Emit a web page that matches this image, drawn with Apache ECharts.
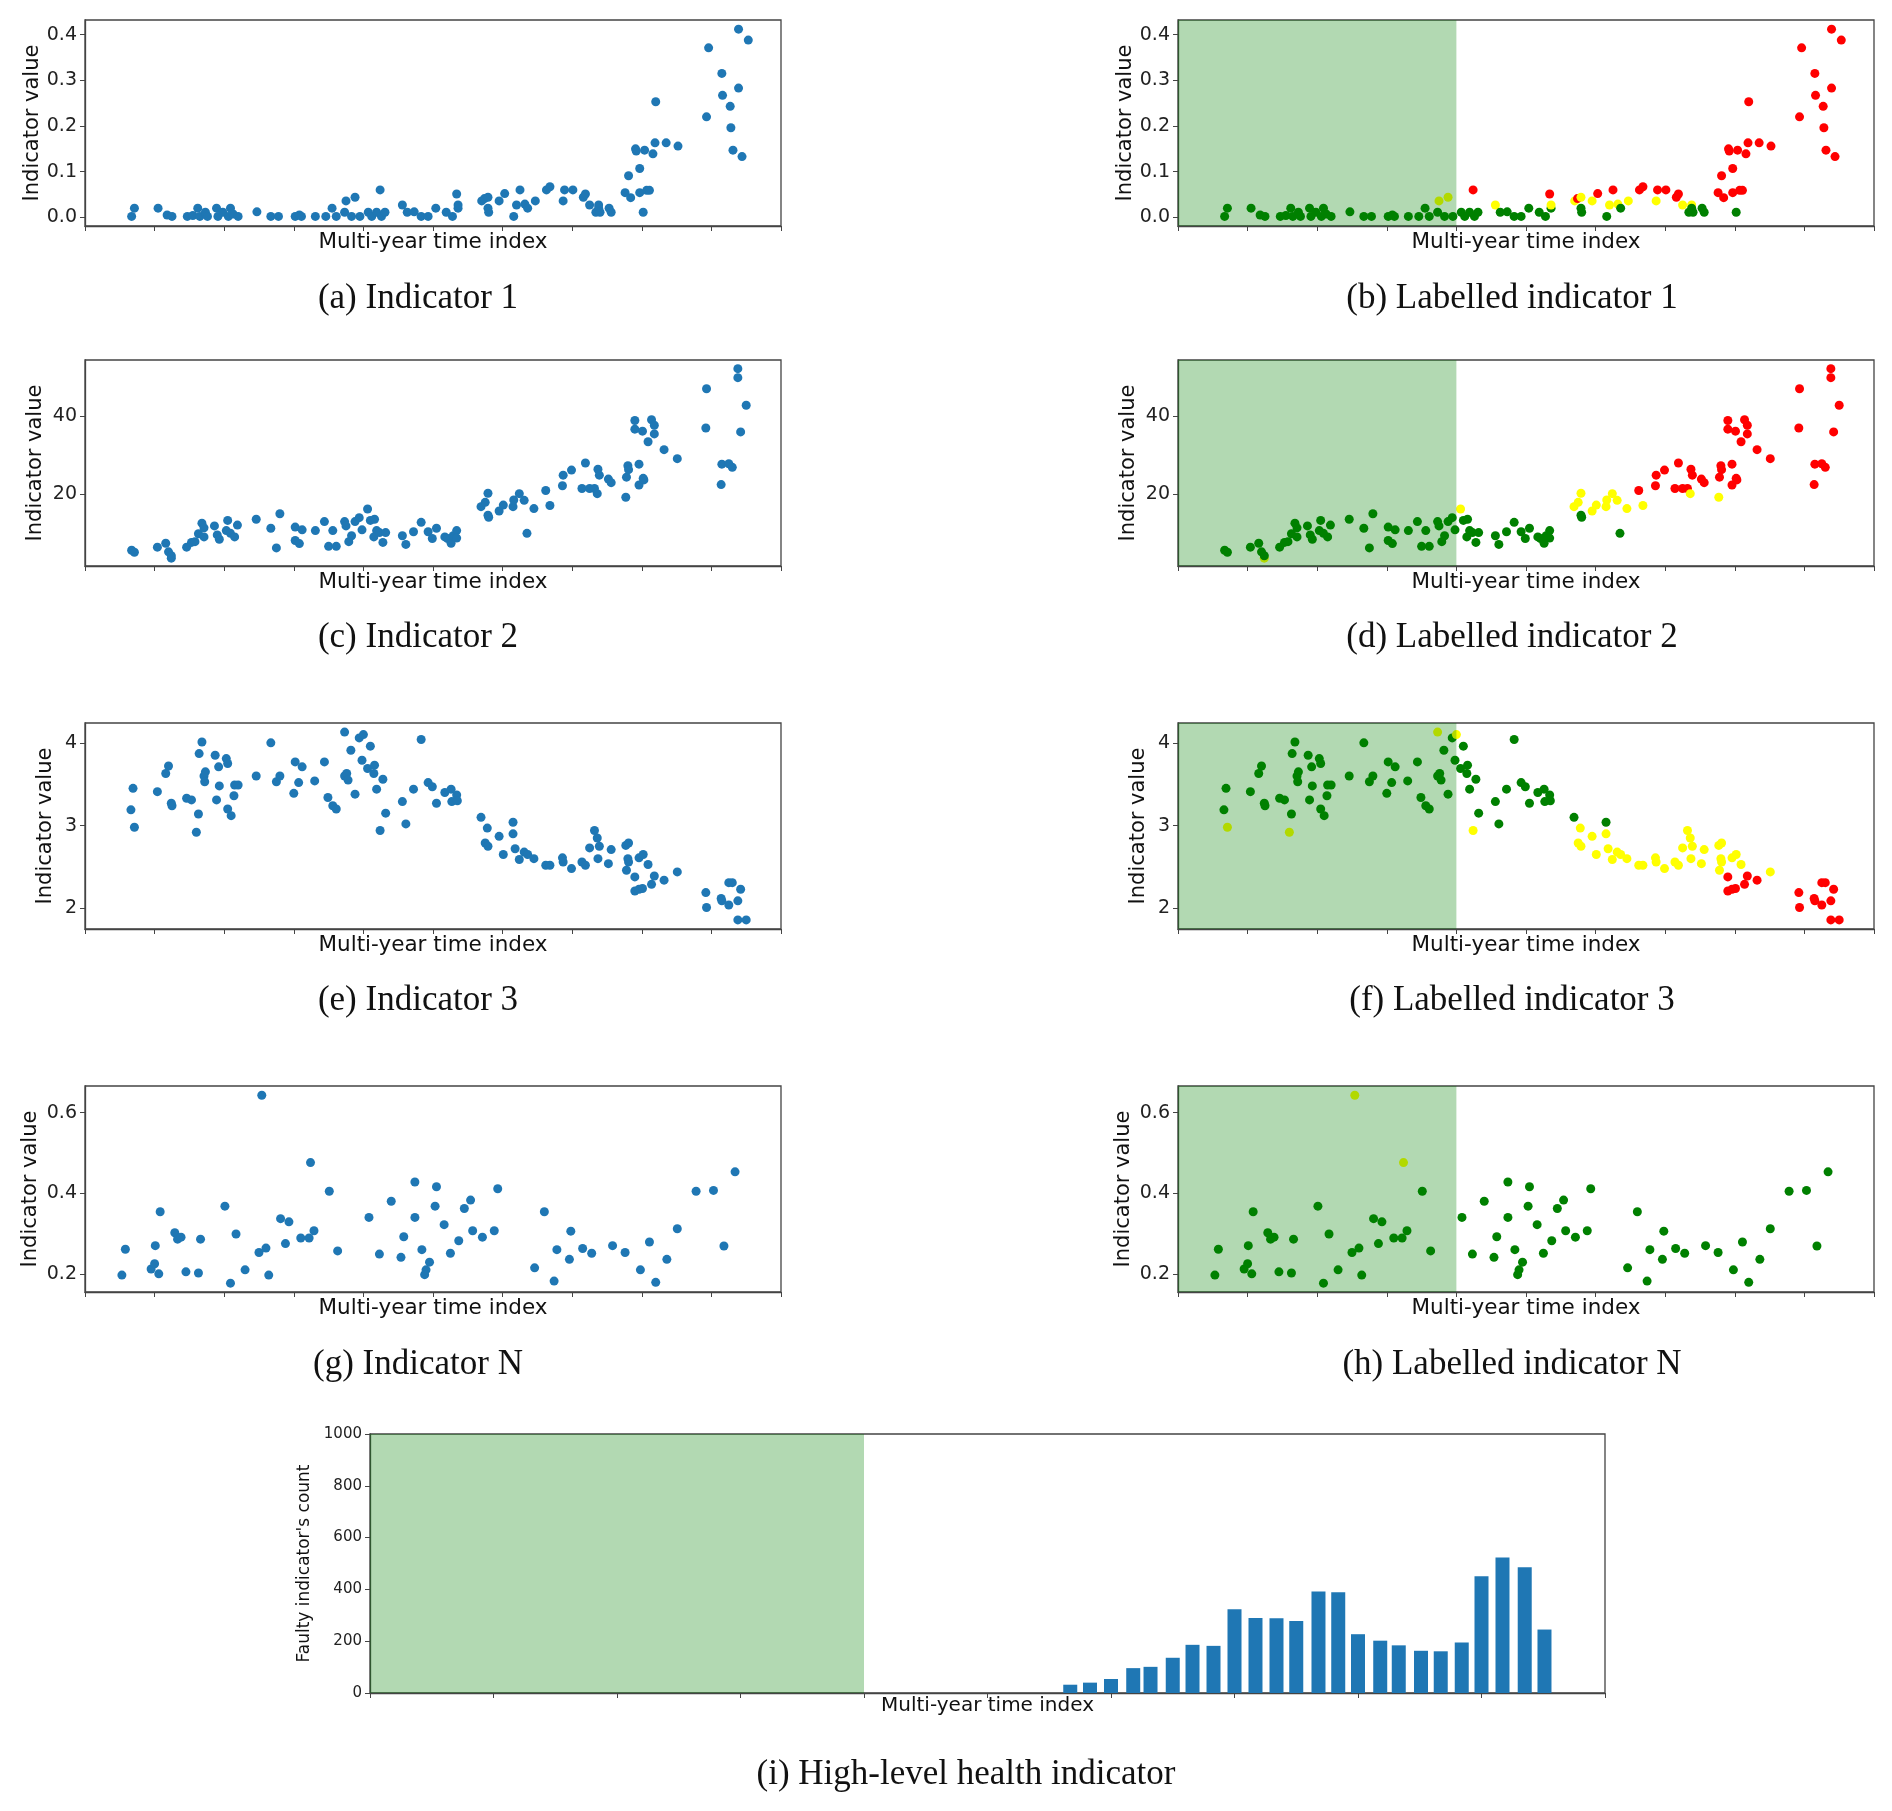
<!DOCTYPE html>
<html>
<head>
<meta charset="utf-8">
<script src="https://cdn.jsdelivr.net/npm/echarts@6/dist/echarts.min.js"></script>
<style>
  html, body { margin: 0; padding: 0; background: #fff; }
  #chart { width: 1892px; height: 1811px; }
</style>
</head>
<body>
<div id="chart"></div>
<script>
// ---- data: [time index, value, label] ----
// label: g = healthy (green), y = warning (yellow), r = faulty (red)
var ind1 = [
  [0.67, 0.002, 'g'], [0.71, 0.02, 'g'], [1.05, 0.02, 'g'], [1.18, 0.005, 'g'], [1.25, 0.002, 'g'],
  [1.47, 0.002, 'g'], [1.55, 0.004, 'g'], [1.62, 0.02, 'g'], [1.65, 0.002, 'g'], [1.73, 0.011, 'g'],
  [1.76, 0.002, 'g'], [1.89, 0.02, 'g'], [1.91, 0.002, 'g'], [1.98, 0.011, 'g'], [2.06, 0.002, 'g'],
  [2.09, 0.02, 'g'], [2.13, 0.007, 'g'], [2.2, 0.002, 'g'], [2.47, 0.012, 'g'], [2.67, 0.002, 'g'],
  [2.78, 0.002, 'g'], [3.02, 0.002, 'g'], [3.08, 0.005, 'g'], [3.11, 0.002, 'g'], [3.31, 0.002, 'g'],
  [3.46, 0.002, 'g'], [3.55, 0.02, 'g'], [3.61, 0.002, 'g'], [3.73, 0.011, 'g'], [3.75, 0.036, 'y'],
  [3.83, 0.002, 'g'], [3.88, 0.044, 'y'], [3.95, 0.002, 'g'], [4.07, 0.011, 'g'], [4.12, 0.002, 'g'],
  [4.19, 0.011, 'g'], [4.24, 0.06, 'r'], [4.26, 0.002, 'g'], [4.31, 0.011, 'g'], [4.56, 0.027, 'y'],
  [4.63, 0.011, 'g'], [4.73, 0.012, 'g'], [4.83, 0.002, 'g'], [4.93, 0.002, 'g'], [5.04, 0.02, 'g'],
  [5.19, 0.011, 'g'], [5.28, 0.002, 'g'], [5.34, 0.051, 'r'], [5.36, 0.02, 'g'], [5.36, 0.027, 'y'],
  [5.7, 0.036, 'y'], [5.74, 0.041, 'r'], [5.79, 0.044, 'y'], [5.79, 0.02, 'g'], [5.8, 0.011, 'g'],
  [5.95, 0.036, 'y'], [6.03, 0.052, 'r'], [6.16, 0.002, 'g'], [6.2, 0.027, 'y'], [6.25, 0.06, 'r'],
  [6.32, 0.029, 'y'], [6.36, 0.02, 'g'], [6.47, 0.036, 'y'], [6.63, 0.06, 'r'], [6.68, 0.067, 'r'],
  [6.87, 0.036, 'y'], [6.89, 0.06, 'r'], [7.01, 0.06, 'r'], [7.16, 0.044, 'r'], [7.19, 0.051, 'r'],
  [7.25, 0.027, 'y'], [7.34, 0.011, 'g'], [7.38, 0.027, 'y'], [7.38, 0.02, 'g'], [7.4, 0.011, 'g'],
  [7.53, 0.02, 'g'], [7.56, 0.011, 'g'], [7.76, 0.054, 'r'], [7.81, 0.091, 'r'], [7.84, 0.043, 'r'],
  [7.91, 0.15, 'r'], [7.92, 0.145, 'r'], [7.97, 0.107, 'r'], [7.97, 0.054, 'r'], [8.02, 0.011, 'g'],
  [8.04, 0.147, 'r'], [8.07, 0.059, 'r'], [8.11, 0.059, 'r'], [8.16, 0.139, 'r'], [8.19, 0.163, 'r'],
  [8.2, 0.253, 'r'], [8.35, 0.163, 'r'], [8.52, 0.156, 'r'], [8.93, 0.22, 'r'], [8.96, 0.371, 'r'],
  [9.15, 0.315, 'r'], [9.16, 0.267, 'r'], [9.27, 0.243, 'r'], [9.28, 0.196, 'r'], [9.31, 0.147, 'r'],
  [9.39, 0.283, 'r'], [9.39, 0.412, 'r'], [9.44, 0.133, 'r'], [9.53, 0.388, 'r']
];

var ind2 = [
  [0.67, 5.8, 'g'], [0.71, 5.3, 'g'], [1.04, 6.6, 'g'], [1.16, 7.6, 'g'], [1.2, 5.4, 'g'],
  [1.24, 3.8, 'y'], [1.24, 4.4, 'g'], [1.46, 6.6, 'g'], [1.53, 7.8, 'g'], [1.58, 8.0, 'g'],
  [1.63, 10.0, 'g'], [1.68, 12.7, 'g'], [1.71, 11.5, 'g'], [1.71, 9.2, 'g'], [1.86, 12.0, 'g'],
  [1.9, 9.7, 'g'], [1.93, 8.6, 'g'], [2.03, 10.8, 'g'], [2.05, 13.4, 'g'], [2.09, 10.1, 'g'],
  [2.15, 9.2, 'g'], [2.19, 12.2, 'g'], [2.46, 13.7, 'g'], [2.67, 11.4, 'g'], [2.75, 6.4, 'g'],
  [2.8, 15.1, 'g'], [3.02, 11.7, 'g'], [3.02, 8.3, 'g'], [3.08, 7.5, 'g'], [3.12, 11.0, 'g'],
  [3.31, 10.8, 'g'], [3.44, 13.1, 'g'], [3.5, 6.8, 'g'], [3.56, 10.8, 'g'], [3.61, 6.8, 'g'],
  [3.73, 13.1, 'g'], [3.75, 12.0, 'g'], [3.79, 8.0, 'g'], [3.83, 9.5, 'g'], [3.88, 13.1, 'g'],
  [3.94, 14.1, 'g'], [3.98, 11.0, 'g'], [4.06, 16.3, 'y'], [4.1, 13.4, 'g'], [4.16, 13.7, 'g'],
  [4.19, 10.8, 'g'], [4.15, 9.2, 'g'], [4.23, 10.3, 'g'], [4.28, 7.8, 'g'], [4.32, 10.3, 'g'],
  [4.56, 9.5, 'g'], [4.61, 7.3, 'g'], [4.72, 10.5, 'g'], [4.83, 12.9, 'g'], [4.93, 10.5, 'g'],
  [4.99, 8.8, 'g'], [5.05, 11.4, 'g'], [5.17, 9.2, 'g'], [5.21, 8.8, 'g'], [5.26, 7.6, 'g'],
  [5.29, 9.5, 'g'], [5.34, 10.8, 'g'], [5.34, 8.9, 'g'], [5.69, 16.9, 'y'], [5.75, 18.0, 'y'],
  [5.79, 20.3, 'y'], [5.79, 14.7, 'g'], [5.8, 14.2, 'g'], [5.95, 15.8, 'y'], [6.01, 17.3, 'y'],
  [6.15, 16.9, 'y'], [6.16, 18.6, 'y'], [6.24, 20.2, 'y'], [6.31, 18.5, 'y'], [6.35, 10.1, 'g'],
  [6.45, 16.4, 'y'], [6.62, 21.0, 'r'], [6.68, 17.2, 'y'], [6.86, 22.2, 'r'], [6.87, 24.9, 'r'],
  [6.99, 26.2, 'r'], [7.14, 21.5, 'r'], [7.19, 28.0, 'r'], [7.25, 21.5, 'r'], [7.32, 21.5, 'r'],
  [7.36, 20.2, 'y'], [7.37, 26.4, 'r'], [7.39, 24.9, 'r'], [7.52, 23.9, 'r'], [7.56, 23.0, 'r'],
  [7.77, 19.3, 'y'], [7.78, 24.4, 'r'], [7.8, 27.3, 'r'], [7.81, 26.3, 'r'], [7.9, 38.8, 'r'],
  [7.9, 36.6, 'r'], [7.96, 27.7, 'r'], [7.96, 22.4, 'r'], [8.01, 36.1, 'r'], [8.02, 24.1, 'r'],
  [8.03, 23.7, 'r'], [8.09, 33.4, 'r'], [8.14, 39.0, 'r'], [8.18, 37.6, 'r'], [8.18, 35.4, 'r'],
  [8.32, 31.4, 'r'], [8.51, 29.1, 'r'], [8.92, 36.9, 'r'], [8.93, 46.9, 'r'], [9.14, 22.5, 'r'],
  [9.15, 27.7, 'r'], [9.25, 27.8, 'r'], [9.3, 26.9, 'r'], [9.38, 49.7, 'r'], [9.38, 52.0, 'r'],
  [9.42, 35.9, 'r'], [9.5, 42.7, 'r']
];

var ind3 = [
  [0.69, 3.45, 'g'], [0.66, 3.19, 'g'], [0.71, 2.98, 'y'], [1.04, 3.41, 'g'], [1.16, 3.63, 'g'],
  [1.2, 3.72, 'g'], [1.24, 3.27, 'g'], [1.25, 3.24, 'g'], [1.46, 3.33, 'g'], [1.53, 3.31, 'g'],
  [1.63, 3.14, 'g'], [1.6, 2.92, 'y'], [1.64, 3.87, 'g'], [1.68, 4.01, 'g'], [1.71, 3.6, 'g'],
  [1.73, 3.65, 'g'], [1.72, 3.53, 'g'], [1.87, 3.85, 'g'], [1.89, 3.31, 'g'], [1.92, 3.71, 'g'],
  [1.93, 3.48, 'g'], [2.03, 3.81, 'g'], [2.05, 3.75, 'g'], [2.05, 3.2, 'g'], [2.1, 3.12, 'g'],
  [2.14, 3.36, 'g'], [2.15, 3.49, 'g'], [2.2, 3.49, 'g'], [2.46, 3.6, 'g'], [2.67, 4.0, 'g'],
  [2.75, 3.53, 'g'], [2.8, 3.6, 'g'], [3.0, 3.39, 'g'], [3.02, 3.77, 'g'], [3.07, 3.52, 'g'],
  [3.12, 3.71, 'g'], [3.3, 3.54, 'g'], [3.44, 3.77, 'g'], [3.49, 3.34, 'g'], [3.56, 3.24, 'g'],
  [3.61, 3.2, 'g'], [3.73, 3.6, 'g'], [3.76, 3.63, 'g'], [3.78, 3.55, 'g'], [3.82, 3.91, 'g'],
  [3.88, 3.38, 'g'], [3.73, 4.13, 'y'], [3.94, 4.06, 'g'], [4.0, 4.1, 'y'], [3.98, 3.79, 'g'],
  [4.06, 3.69, 'g'], [4.1, 3.96, 'g'], [4.15, 3.63, 'g'], [4.16, 3.73, 'g'], [4.19, 3.44, 'g'],
  [4.28, 3.56, 'g'], [4.24, 2.94, 'y'], [4.32, 3.15, 'g'], [4.56, 3.29, 'g'], [4.61, 3.02, 'g'],
  [4.72, 3.44, 'g'], [4.83, 4.04, 'g'], [4.93, 3.52, 'g'], [4.99, 3.47, 'g'], [5.05, 3.27, 'g'],
  [5.17, 3.4, 'g'], [5.26, 3.44, 'g'], [5.27, 3.29, 'g'], [5.34, 3.37, 'g'], [5.35, 3.3, 'g'],
  [5.69, 3.1, 'g'], [5.78, 2.97, 'y'], [5.75, 2.79, 'y'], [5.79, 2.75, 'y'], [5.95, 2.87, 'y'],
  [6.01, 2.65, 'y'], [6.15, 3.04, 'g'], [6.15, 2.9, 'y'], [6.18, 2.72, 'y'], [6.24, 2.59, 'y'],
  [6.31, 2.68, 'y'], [6.36, 2.65, 'y'], [6.45, 2.6, 'y'], [6.62, 2.52, 'y'], [6.68, 2.52, 'y'],
  [6.86, 2.61, 'y'], [6.87, 2.56, 'y'], [6.99, 2.48, 'y'], [7.14, 2.56, 'y'], [7.19, 2.52, 'y'],
  [7.25, 2.73, 'y'], [7.32, 2.94, 'y'], [7.36, 2.85, 'y'], [7.39, 2.75, 'y'], [7.37, 2.6, 'y'],
  [7.52, 2.54, 'y'], [7.56, 2.71, 'y'], [7.77, 2.76, 'y'], [7.81, 2.79, 'y'], [7.8, 2.6, 'y'],
  [7.81, 2.56, 'y'], [7.78, 2.46, 'y'], [7.9, 2.38, 'r'], [7.9, 2.21, 'r'], [7.96, 2.23, 'r'],
  [8.01, 2.24, 'r'], [7.96, 2.61, 'y'], [8.02, 2.65, 'y'], [8.09, 2.53, 'y'], [8.14, 2.29, 'r'],
  [8.18, 2.39, 'r'], [8.32, 2.34, 'r'], [8.51, 2.44, 'y'], [8.92, 2.19, 'r'], [8.93, 2.01, 'r'],
  [9.14, 2.12, 'r'], [9.15, 2.09, 'r'], [9.25, 2.04, 'r'], [9.25, 2.31, 'r'], [9.3, 2.31, 'r'],
  [9.38, 2.09, 'r'], [9.42, 2.23, 'r'], [9.38, 1.86, 'r'], [9.5, 1.86, 'r']
];

var indN = [
  [0.53, 0.197, 'g'], [0.58, 0.261, 'g'], [0.95, 0.212, 'g'], [1.0, 0.225, 'g'], [1.01, 0.27, 'g'],
  [1.06, 0.2, 'g'], [1.08, 0.354, 'g'], [1.29, 0.302, 'g'], [1.33, 0.286, 'g'], [1.38, 0.291, 'g'],
  [1.45, 0.205, 'g'], [1.63, 0.202, 'g'], [1.66, 0.286, 'g'], [2.01, 0.368, 'g'], [2.09, 0.177, 'g'],
  [2.17, 0.299, 'g'], [2.3, 0.21, 'g'], [2.5, 0.253, 'g'], [2.54, 0.643, 'y'], [2.6, 0.264, 'g'],
  [2.64, 0.197, 'g'], [2.81, 0.337, 'g'], [2.88, 0.275, 'g'], [2.93, 0.329, 'g'], [3.1, 0.289, 'g'],
  [3.22, 0.289, 'g'], [3.24, 0.476, 'y'], [3.29, 0.307, 'g'], [3.51, 0.405, 'g'], [3.63, 0.257, 'g'],
  [4.08, 0.34, 'g'], [4.23, 0.249, 'g'], [4.4, 0.38, 'g'], [4.54, 0.241, 'g'], [4.58, 0.292, 'g'],
  [4.74, 0.428, 'g'], [4.74, 0.34, 'g'], [4.84, 0.26, 'g'], [4.95, 0.229, 'g'], [4.9, 0.21, 'g'],
  [4.88, 0.198, 'g'], [5.03, 0.368, 'g'], [5.05, 0.416, 'g'], [5.16, 0.322, 'g'], [5.25, 0.251, 'g'],
  [5.37, 0.282, 'g'], [5.45, 0.362, 'g'], [5.54, 0.383, 'g'], [5.57, 0.307, 'g'], [5.71, 0.291, 'g'],
  [5.88, 0.307, 'g'], [5.93, 0.411, 'g'], [6.46, 0.215, 'g'], [6.6, 0.354, 'g'], [6.74, 0.182, 'g'],
  [6.78, 0.26, 'g'], [6.96, 0.236, 'g'], [6.98, 0.306, 'g'], [7.15, 0.263, 'g'], [7.28, 0.251, 'g'],
  [7.58, 0.27, 'g'], [7.76, 0.253, 'g'], [7.98, 0.21, 'g'], [8.11, 0.279, 'g'], [8.2, 0.179, 'g'],
  [8.36, 0.236, 'g'], [8.51, 0.312, 'g'], [8.78, 0.405, 'g'], [9.03, 0.407, 'g'], [9.18, 0.269, 'g'],
  [9.34, 0.453, 'g']
];

// high-level health indicator: faulty indicator count per period
var barX = [5.67, 5.83, 6.0, 6.18, 6.32, 6.5, 6.66, 6.83, 7.0, 7.17, 7.34, 7.5,
            7.68, 7.84, 8.0, 8.18, 8.33, 8.51, 8.67, 8.84, 9.0, 9.17, 9.35, 9.51];
var barCount = [32, 40, 54, 96, 101, 136, 186, 182, 323, 290, 289, 278,
                392, 389, 227, 202, 184, 163, 161, 195, 451, 523, 486, 245];

// reference (training) period shaded green
var shadeRange = [0, 4];

// axes
var xTicks = [0, 1, 2, 3, 4, 5, 6, 7, 8, 9, 10];
var ticks1 = [0, 0.1, 0.2, 0.3, 0.4];
var ticks2 = [20, 40];
var ticks3 = [2, 3, 4];
var ticksN = [0.2, 0.4, 0.6];
var ticksBar = [0, 200, 400, 600, 800, 1000];

var range1 = [-0.019, 0.432];
var range2 = [1.8, 54.2];
var range3 = [1.75, 4.24];
var rangeN = [0.155, 0.666];

// ---- layout ----
var SANS = "'DejaVu Sans', sans-serif";
var SERIF = "'Liberation Serif', 'Times New Roman', serif";
var FRAME = '#444';
var BLUE = '#1f77b4';
var labelColor = { g: '#008000', y: '#ffff00', r: '#ff0000' };

var rowTop = [20, 360, 723, 1086];
var colLeft = [85, 1178];
var plotW = 696, plotH = 206;
var capY = [299, 638, 1001, 1365];
var capX = [418, 1512];

var panels = [
  { data: ind1, range: range1, ticks: ticks1, digits: 1, gap: 42,
    caps: ['(a) Indicator 1', '(b) Labelled indicator 1'] },
  { data: ind2, range: range2, ticks: ticks2, digits: 0, gap: 39,
    caps: ['(c) Indicator 2', '(d) Labelled indicator 2'] },
  { data: ind3, range: range3, ticks: ticks3, digits: 0, gap: 29,
    caps: ['(e) Indicator 3', '(f) Labelled indicator 3'] },
  { data: indN, range: rangeN, ticks: ticksN, digits: 1, gap: 44,
    caps: ['(g) Indicator N', '(h) Labelled indicator N'] }
];

var dom = document.getElementById('chart');
var myChart = echarts.init(dom, null, { renderer: 'canvas' });

var grids = [], xAxes = [], yAxes = [], series = [], titles = [];

function addTitle(text, cx, cy, size) {
  titles.push({
    text: text, left: cx, top: cy - size / 2, textAlign: 'center', padding: 0,
    textStyle: { fontFamily: SERIF, fontSize: size, lineHeight: size, fontWeight: 'normal', color: '#111' }
  });
}

function addAxes(left, top, w, h, yRange, yTicks, digits, nameGap, opt) {
  var idx = grids.length;
  grids.push({ left: left, top: top, width: w, height: h, show: true,
               borderColor: FRAME, borderWidth: 1.3, backgroundColor: 'transparent' });
  xAxes.push({
    type: 'value', gridIndex: idx, min: 0, max: 10,
    name: 'Multi-year time index', nameLocation: 'middle', nameGap: opt.xGap,
    nameTextStyle: { fontFamily: SANS, fontSize: opt.xName, color: '#111' },
    axisLine: { show: true, onZero: false, lineStyle: { color: FRAME, width: 1.3 } },
    axisTick: { show: true, length: 5, inside: false, customValues: xTicks,
                lineStyle: { color: FRAME, width: 1 } },
    axisLabel: { show: false, customValues: xTicks },
    splitLine: { show: false }
  });
  yAxes.push({
    type: 'value', gridIndex: idx, min: yRange[0], max: yRange[1],
    name: opt.yName, nameLocation: 'middle', nameGap: nameGap,
    nameTextStyle: { fontFamily: SANS, fontSize: opt.yNameSize, color: '#111' },
    axisLine: { show: true, onZero: false, lineStyle: { color: FRAME, width: 1.3 } },
    axisTick: { show: true, length: 5, customValues: yTicks,
                lineStyle: { color: FRAME, width: 1 } },
    axisLabel: { show: true, customValues: yTicks, margin: 8,
                 fontFamily: SANS, fontSize: opt.tickSize, color: '#222',
                 formatter: function (v) { return v.toFixed(digits); } },
    splitLine: { show: false }
  });
  return idx;
}

// translucent band drawn above the points, like an axvspan
function addShade(idx) {
  series.push({
    type: 'line', xAxisIndex: idx, yAxisIndex: idx, data: [], z: 5, silent: true,
    markArea: {
      silent: true, z: 10,
      itemStyle: { color: 'rgba(0,128,0,0.3)' },
      data: [[{ xAxis: shadeRange[0] }, { xAxis: shadeRange[1] }]]
    }
  });
}

var scatterOpt = { xGap: 5, xName: 21.5, yName: 'Indicator value', yNameSize: 21, tickSize: 19 };

panels.forEach(function (p, row) {
  // plain indicator (left column)
  var a = addAxes(colLeft[0], rowTop[row], plotW, plotH, p.range, p.ticks, p.digits, p.gap, scatterOpt);
  series.push({
    type: 'scatter', xAxisIndex: a, yAxisIndex: a, symbolSize: 9, z: 2,
    itemStyle: { color: BLUE, opacity: 1 },
    data: p.data.map(function (d) { return [d[0], d[1]]; })
  });
  addTitle(p.caps[0], capX[0], capY[row], 35);

  // labelled indicator (right column)
  var b = addAxes(colLeft[1], rowTop[row], plotW, plotH, p.range, p.ticks, p.digits, p.gap, scatterOpt);
  series.push({
    type: 'scatter', xAxisIndex: b, yAxisIndex: b, symbolSize: 9, z: 2,
    data: p.data.map(function (d) {
      return { value: [d[0], d[1]], itemStyle: { color: labelColor[d[2]], opacity: 1 } };
    })
  });
  addShade(b);
  addTitle(p.caps[1], capX[1], capY[row], 35);
});

// high-level health indicator
var c = addAxes(370, 1434, 1235, 259, [0, 1000], ticksBar, 0, 56,
  { xGap: 3, xName: 20, yName: "Faulty indicator's count", yNameSize: 17, tickSize: 15 });
addShade(c);
series.push({
  type: 'bar', xAxisIndex: c, yAxisIndex: c, barWidth: 14, z: 2,
  itemStyle: { color: BLUE },
  data: barX.map(function (x, i) { return [x, barCount[i]]; })
});
addTitle('(i) High-level health indicator', 966, 1775, 35);

var option = {
  backgroundColor: '#fff',
  animation: false,
  title: titles,
  grid: grids,
  xAxis: xAxes,
  yAxis: yAxes,
  series: series
};

if (option && typeof option === 'object') {
  myChart.setOption(option);
}

window.addEventListener('resize', myChart.resize);
</script>
</body>
</html>
